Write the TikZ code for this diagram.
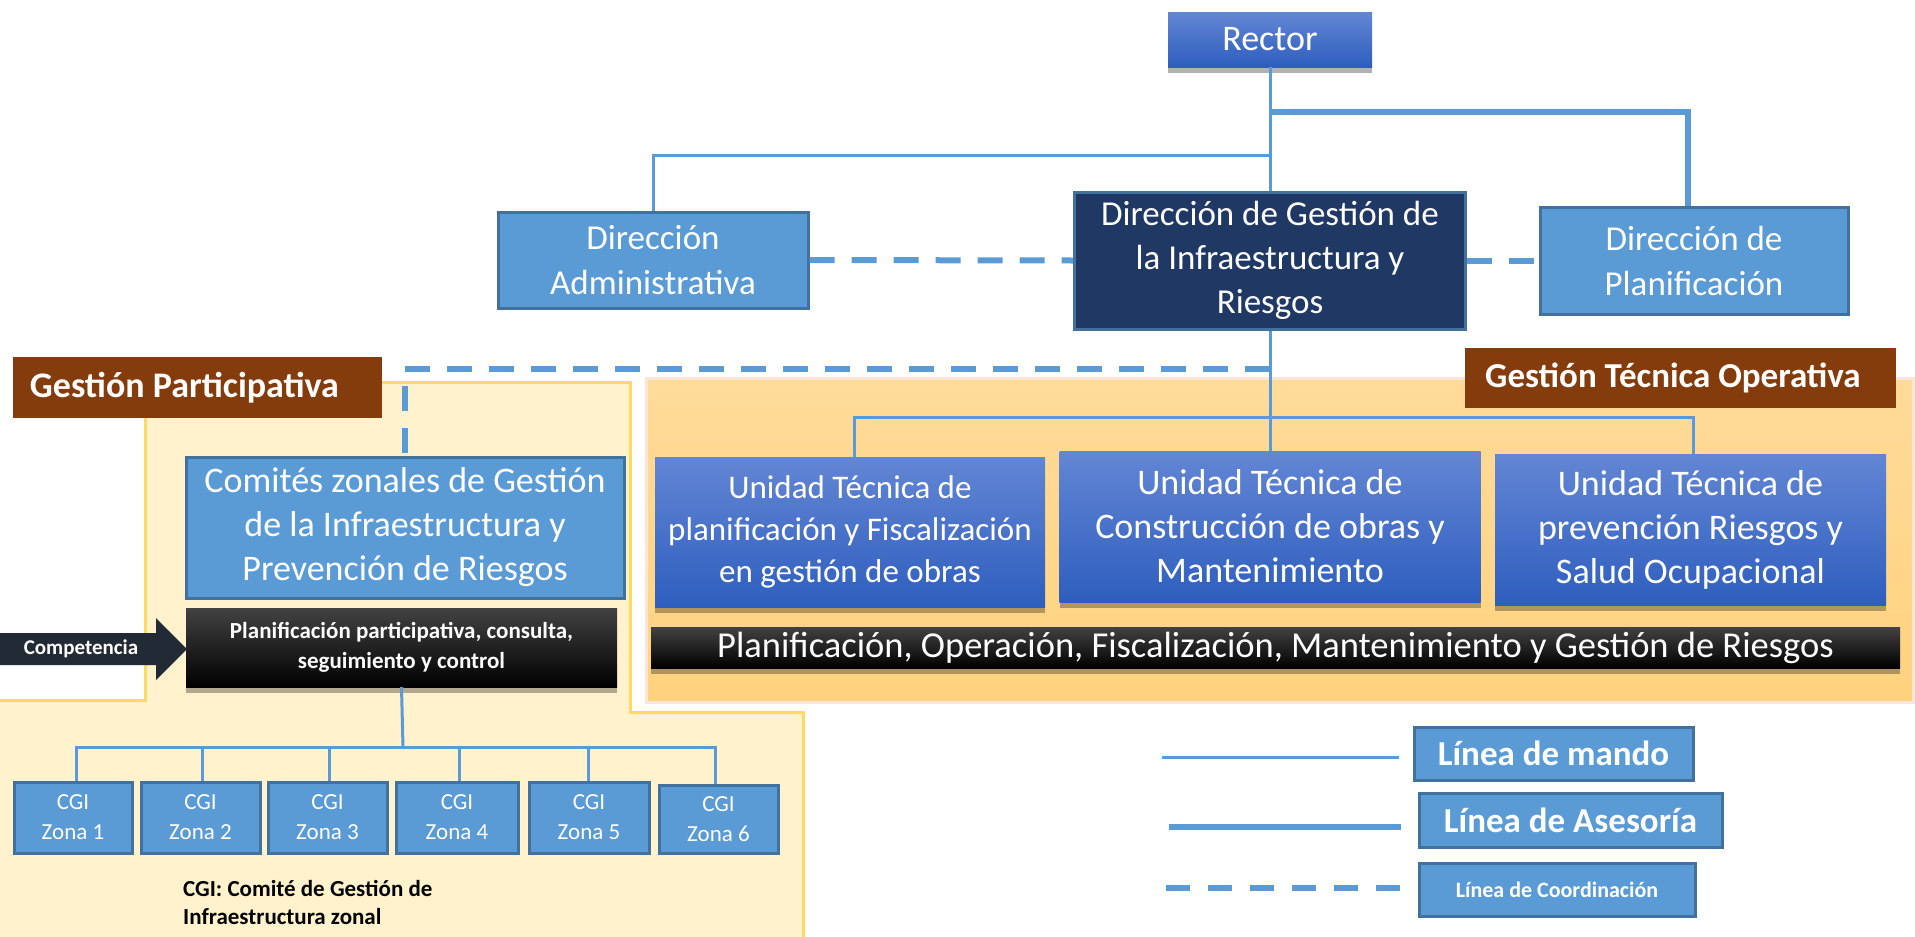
\documentclass[tikz,border=0pt]{standalone}
\usepackage{fontspec}
\setmainfont{Carlito}
\usetikzlibrary{shadows}
\newcommand{\myfs}[2]{\fontsize{#1}{#2}\selectfont}
\definecolor{lblue}{HTML}{5B9BD5}
\definecolor{lborder}{HTML}{41719C}
\definecolor{navy}{HTML}{203864}
\definecolor{brownlab}{HTML}{843C0C}
\definecolor{cream}{HTML}{FFF2CC}
\definecolor{creamb}{HTML}{FFD966}
\definecolor{gtfillA}{HTML}{FFDB9A}
\definecolor{gtfillB}{HTML}{FFD27E}
\definecolor{gtb}{HTML}{FBE5D6}
\definecolor{gradA}{RGB}{99,134,212}
\definecolor{gradB}{RGB}{46,94,190}
\definecolor{arrowc}{HTML}{222A35}
\definecolor{blackA}{RGB}{66,66,66}
\tikzset{
  box/.style={rectangle, inner sep=0pt, align=center, text=white},
  lbox/.style={box, fill=lblue, draw=lborder, line width=3pt},
  gbox/.style={box, top color=gradA, bottom color=gradB, draw=none,
    drop shadow={shadow xshift=0pt, shadow yshift=-6pt, fill=black, opacity=0.3}},
  bbox/.style={box, top color=blackA, middle color=black, bottom color=black, draw=none,
    drop shadow={shadow xshift=0pt, shadow yshift=-6pt, fill=black, opacity=0.3}},
  labbox/.style={box, fill=brownlab, draw=none},
  zbox/.style={lbox, minimum height=71pt, font=\myfs{23}{30}},
  mando/.style={draw=lblue, line width=3pt},
  asesoria/.style={draw=lblue, line width=6pt},
  coord/.style={draw=lblue, line width=6pt, dash pattern=on 25pt off 17pt},
}
\begin{document}
\begin{tikzpicture}[x=1pt,y=-1pt]
\useasboundingbox (0,0) rectangle (1915,937);
% regions
\path[fill=cream, draw=creamb, line width=3pt]
  (145,382) -- (630,382) -- (630,712) -- (803,712) -- (803,950) -- (-10,950) -- (-10,700) -- (145,700) -- cycle;
\path[top color=gtfillA, bottom color=gtfillB] (646,378) rectangle (1913,702);
\draw[gtb, line width=3pt] (646,378) rectangle (1913,702);
\node[labbox, minimum width=369pt, minimum height=61pt, font=\myfs{36}{44}\bfseries] (gp) at (197.5,387.5) {Gestión Participativa\hspace*{26pt}};
\node[labbox, minimum width=431pt, minimum height=60pt, font=\myfs{35}{44}\bfseries] (gto) at (1680.5,378) {Gestión Técnica Operativa\hspace*{15pt}};
% top nodes
\node[gbox, minimum width=204pt, minimum height=55pt, font=\myfs{36}{44}] (rector) at (1270,39.5) {Rector};
\node[lbox, minimum width=310pt, minimum height=96pt, font=\myfs{35}{45}] (admin) at (653,260) {Dirección\\Administrativa};
\node[box, fill=navy, draw=lborder, line width=3pt, minimum width=391pt, minimum height=137pt, font=\myfs{35}{44}] (gestion) at (1270,260.5) {Dirección de Gestión de\\la Infraestructura y\\Riesgos};
\node[lbox, minimum width=308pt, minimum height=107pt, font=\myfs{35}{45}] (planif) at (1694,260.5) {Dirección de\\Planificación};
% participative side
\node[lbox, minimum width=438pt, minimum height=141pt, font=\myfs{36}{44}] (comites) at (405,527.5) {Comités zonales de Gestión\\de la Infraestructura y\\Prevención de Riesgos};
\node[bbox, minimum width=431pt, minimum height=79pt, font=\myfs{23}{30}\bfseries] (plpart) at (401.5,647.5) {Planificación participativa, consulta,\\seguimiento y control};
\fill[arrowc] (0,633) -- (156,633) -- (156,618) -- (187,649) -- (156,680) -- (156,665) -- (0,665) -- cycle;
\node[text=white, font=\myfs{21}{26}\bfseries, inner sep=0pt] (comp) at (81,649) {Competencia};
% zones
\node[zbox, minimum width=118pt] (z1) at (73,817.5) {CGI\\Zona 1};
\node[zbox, minimum width=119pt] (z2) at (200.5,817.5) {CGI\\Zona 2};
\node[zbox, minimum width=119pt] (z3) at (327.5,817.5) {CGI\\Zona 3};
\node[zbox, minimum width=122pt] (z4) at (457,817.5) {CGI\\Zona 4};
\node[zbox, minimum width=120pt] (z5) at (589,817.5) {CGI\\Zona 5};
\node[zbox, minimum width=119pt, minimum height=68pt] (z6) at (718.5,819) {CGI\\Zona 6};
\node[anchor=north west, align=left, inner sep=0pt, font=\myfs{23}{28}\bfseries] (note) at (183,880) {CGI: Comité de Gestión de\\Infraestructura zonal};
% technical units
\node[gbox, minimum width=390pt, minimum height=150pt, font=\myfs{33}{42}] (ut1) at (850,532) {Unidad Técnica de\\planificación y Fiscalización\\en gestión de obras};
\node[gbox, minimum width=421pt, minimum height=151pt, font=\myfs{36}{44}] (ut2) at (1270,526.5) {Unidad Técnica de\\Construcción de obras y\\Mantenimiento};
\node[gbox, minimum width=391pt, minimum height=151pt, font=\myfs{36}{44}] (ut3) at (1690.5,529.5) {Unidad Técnica de\\prevención Riesgos y\\Salud Ocupacional};
\node[bbox, minimum width=1249pt, minimum height=41pt, font=\myfs{36.5}{40}] (bar) at (1275.5,647.5) {Planificación, Operación, Fiscalización, Mantenimiento y Gestión de Riesgos};
% connectors
\coordinate (jp) at (1270,112);
\coordinate (ja) at (1270,155);
\coordinate (jc) at (1270,369);
\coordinate (jut) at (1270,417);
\coordinate (jz) at (403,747);
\draw[mando] (rector.south) -- (gestion.north);
\draw[asesoria] (jp) -| ([xshift=-6pt]planif.north);
\draw[mando] (ja) -| (admin.north);
\draw[coord] (admin.east) -- (gestion.west);
\draw[coord] (gestion.east) -- (planif.west);
\draw[mando] (gestion.south) -- (ut2.north);
\draw[mando] (jut) -| ([xshift=4pt]ut1.north);
\draw[mando] (jut) -| ([xshift=3pt]ut3.north);
\draw[coord] (jc) -| (comites.north);
\draw[mando] (plpart.south) -- (jz);
\foreach \z/\dx in {z1/3,z2/1.5,z3/1.5,z4/2,z5/-1,z6/-3.5}{
  \draw[mando] (jz) -| ([xshift=\dx pt]\z.north);
}
% legend
\node[lbox, minimum width=279pt, minimum height=53pt, font=\myfs{35}{40}\bfseries] (lm) at (1553.5,753.5) {Línea de mando};
\node[lbox, minimum width=303pt, minimum height=54pt, font=\myfs{35}{40}\bfseries] (la) at (1570.5,820) {Línea de Asesoría};
\node[lbox, minimum width=276pt, minimum height=53pt, font=\myfs{22}{26}\bfseries] (lc) at (1557,889.5) {Línea de Coordinación};
\coordinate (lm1) at (1162,757); \coordinate (lm2) at (1399,757);
\coordinate (la1) at (1169,827); \coordinate (la2) at (1401,827);
\coordinate (lc1) at (1166,888); \coordinate (lc2) at (1400,888);
\draw[mando] (lm1) -- (lm2);
\draw[asesoria] (la1) -- (la2);
\draw[coord, dash pattern=on 24pt off 18pt] (lc1) -- (lc2);
\end{tikzpicture}
\end{document}
